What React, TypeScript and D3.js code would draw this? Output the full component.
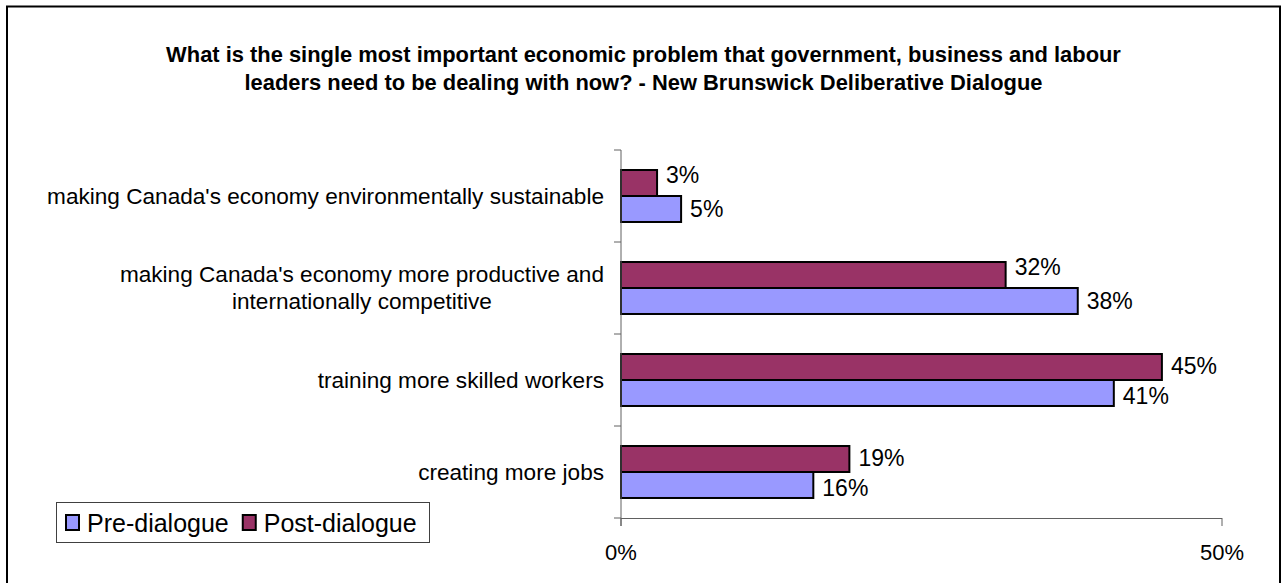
import React from "react";
import * as d3 from "d3";

const categories = [
  "making Canada's economy environmentally sustainable",
  "making Canada's economy more productive and internationally competitive",
  "training more skilled workers",
  "creating more jobs",
];
const series = ["Post-dialogue", "Pre-dialogue"];
const preValues = [5, 38, 41, 16];
const postValues = [3, 32, 45, 19];
const xTicks = [0, 50];
const titleLines = [
  "What is the single most important economic problem that government, business and labour",
  "leaders need to be dealing with now? - New Brunswick Deliberative Dialogue",
];
const legendItems = ["Pre-dialogue", "Post-dialogue"];

const colors: Record<string, string> = {
  "Pre-dialogue": "#9999FF",
  "Post-dialogue": "#993366",
};

const FONT = "Arial, 'Liberation Sans', sans-serif";
const W = 1287;
const H = 583;

let ctx: CanvasRenderingContext2D | null = null;
function measure(text: string, size: number, weight = "normal") {
  if (!ctx) ctx = document.createElement("canvas").getContext("2d");
  if (!ctx) return text.length * size * 0.5;
  ctx.font = `${weight} ${size}px Arial, 'Liberation Sans', sans-serif`;
  return ctx.measureText(text).width;
}

function wrap(text: string, size: number, maxW: number) {
  const words = text.split(" ");
  const lines: string[] = [];
  let cur = "";
  for (const w of words) {
    const t = cur ? cur + " " + w : w;
    if (measure(t, size) > maxW && cur) {
      lines.push(cur);
      cur = w;
    } else cur = t;
  }
  if (cur) lines.push(cur);
  return lines;
}

export default function App() {
  const x = d3.scaleLinear().domain([0, 50]).range([621, 1222]);
  const y = d3.scaleBand<string>().domain(categories).range([150, 518]).padding(0);
  const ySub = d3
    .scaleBand<string>()
    .domain(series)
    .range([0, y.bandwidth()])
    .paddingInner(0)
    .paddingOuter(0.77);

  const labelSize = 22.6;
  const valueSize = 23;
  const labelRight = 604;
  const lineH = 27;

  const valueOf = (s: string, i: number) => (s === "Pre-dialogue" ? preValues[i] : postValues[i]);
  // small vertical nudge that keeps the two value labels of a category apart
  const nudge = (s: string, i: number) => {
    const shorterPost = postValues[i] < preValues[i];
    if (s === "Post-dialogue") return shorterPost ? -8 : -1;
    return shorterPost ? 0 : 3;
  };

  return (
    <svg
      width={W}
      height={H}
      style={{ position: "absolute", left: 0, top: 0, background: "#fff" }}
      fontFamily={FONT}
    >
      <rect x={0} y={0} width={W} height={H} fill="#fff" />
      <rect x={7} y={6.5} width={1273} height={600} fill="none" stroke="#000" strokeWidth={2} />

      {titleLines.map((t, i) => (
        <text
          key={i}
          x={643.5}
          y={62 + i * 28}
          textAnchor="middle"
          fontWeight="bold"
          fontSize={21.9}
          fill="#000"
        >
          {t}
        </text>
      ))}

      {/* bars */}
      {categories.map((c, i) =>
        series.map((s) => {
          const v = valueOf(s, i);
          const by = (y(c) as number) + (ySub(s) as number);
          return (
            <g key={c + s}>
              <rect
                x={x(0)}
                y={by}
                width={x(v) - x(0)}
                height={ySub.bandwidth()}
                fill={colors[s]}
                stroke="#000"
                strokeWidth={2}
              />
              <text
                x={x(v) + 9}
                y={by + ySub.bandwidth() / 2 + valueSize * 0.35 + nudge(s, i)}
                fontSize={valueSize}
                fill="#000"
              >
                {v}%
              </text>
            </g>
          );
        })
      )}

      {/* category axis */}
      <line x1={621} x2={621} y1={150} y2={526} stroke="#606060" strokeWidth={1} />
      {[...categories.map((c) => y(c) as number), 518].map((ty, i) => (
        <line key={i} x1={614} x2={621} y1={ty} y2={ty} stroke="#606060" strokeWidth={1} />
      ))}
      {categories.map((c) => {
        const lines = wrap(c, labelSize, 585);
        const cy = (y(c) as number) + y.bandwidth() / 2;
        const maxW = d3.max(lines, (l) => measure(l, labelSize)) || 0;
        const first = cy - ((lines.length - 1) * lineH) / 2 + labelSize * 0.34;
        return lines.map((l, j) => (
          <text
            key={c + j}
            x={lines.length > 1 ? labelRight - maxW / 2 : labelRight}
            y={first + j * lineH}
            textAnchor={lines.length > 1 ? "middle" : "end"}
            fontSize={labelSize}
            fill="#000"
          >
            {l}
          </text>
        ));
      })}

      {/* value axis */}
      <line x1={621} x2={1222} y1={518.5} y2={518.5} stroke="#606060" strokeWidth={1} />
      {xTicks.map((t) => (
        <g key={t}>
          <line x1={x(t)} x2={x(t)} y1={518} y2={526} stroke="#606060" strokeWidth={1} />
          <text x={x(t)} y={560} textAnchor="middle" fontSize={22} fill="#000">
            {t}%
          </text>
        </g>
      ))}

      {/* legend */}
      <rect x={56.5} y={502.5} width={373} height={40} fill="#fff" stroke="#404040" strokeWidth={1} />
      {(() => {
        let cx = 66;
        return legendItems.map((s) => {
          const sx = cx;
          const tw = measure(s, 25);
          cx = sx + 21 + tw + 14;
          return (
            <g key={s}>
              <rect x={sx} y={515} width={13} height={15} fill={colors[s]} stroke="#000" strokeWidth={2} />
              <text x={sx + 21} y={531.5} fontSize={25} fill="#000">
                {s}
              </text>
            </g>
          );
        });
      })()}
    </svg>
  );
}
